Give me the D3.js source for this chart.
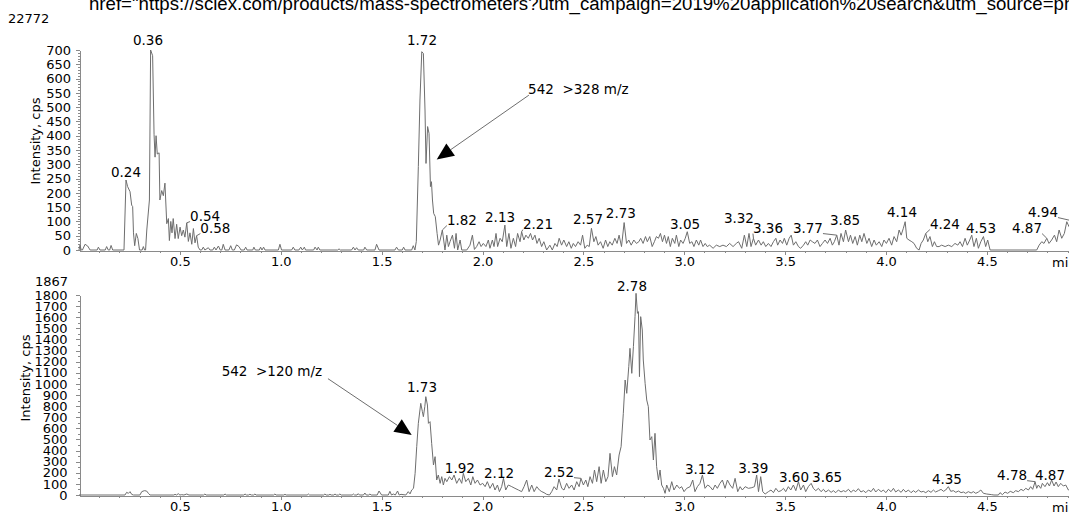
<!DOCTYPE html>
<html>
<head>
<meta charset="utf-8">
<script src="https://cdn.jsdelivr.net/npm/d3@7"></script>
<style>
body{margin:0;background:#fff;overflow:hidden;}
svg{display:block;font-family:"DejaVu Sans",Verdana,sans-serif;}
.axis path,.axis line{stroke:#8a8a8a;shape-rendering:crispEdges;}
.axis text{fill:#000;font-size:13px;font-family:"DejaVu Sans",Verdana,sans-serif;}
</style>
</head>
<body>
<div id="chart"></div>
<script>
//data: [time (min), intensity (cps)]
var topTrace = [
[0,0],[0.005,17],[0.011,0],[0.017,0],[0.03,20],[0.043,14],[0.055,0],[0.09,0],[0.096,10],[0.104,0],[0.13,0],[0.137,12],[0.145,0],[0.152,0],[0.159,16],[0.167,0],
[0.223,0],[0.233,245],[0.241,222],[0.253,204],[0.261,157],[0.266,152],[0.27,60],[0.276,15],[0.284,58],[0.292,40],[0.3,0],[0.313,0],[0.319,12],[0.325,0],[0.33,0],
[0.336,70],[0.349,175],[0.355,700],[0.365,680],[0.372,405],[0.377,325],[0.382,400],[0.388,336],[0.397,340],[0.401,175],[0.41,208],[0.418,190],[0.426,234],[0.435,92],
[0.443,110],[0.448,33],[0.455,100],[0.461,60],[0.467,110],[0.476,40],[0.484,90],[0.492,40],[0.501,80],[0.509,50],[0.517,70],[0.525,45],[0.534,95],[0.542,30],[0.55,60],
[0.559,20],[0.567,75],[0.575,25],[0.583,50],[0.591,10],[0.6,0],[0.608,0],[0.616,10],[0.624,0],[0.641,8],[0.649,0],[0.663,0],[0.671,10],[0.679,0],[0.691,14],[0.7,0],
[0.708,0],[0.715,20],[0.724,0],[0.743,0],[0.752,15],[0.76,0],[0.77,0],[0.781,18],[0.793,12],[0.803,0],[0.819,0],[0.826,10],[0.833,0],[0.861,0],[0.867,10],[0.874,0],
[0.894,0],[0.9,10],[0.907,0],[0.915,10],[0.922,0],[0.988,0],[0.996,20],[1.004,0],[1.054,0],[1.062,10],[1.07,0],[1.09,0],[1.099,10],[1.107,0],[1.117,10],[1.123,0],
[1.163,0],[1.17,10],[1.18,0],[1.186,10],[1.194,0],[1.282,0],[1.289,4],[1.295,0],[1.351,0],[1.36,10],[1.368,0],[1.376,8],[1.384,0],[1.411,0],[1.417,10],[1.426,0],
[1.467,0],[1.475,20],[1.487,0],[1.566,0],[1.574,10],[1.583,0],[1.602,0],[1.609,10],[1.616,0],[1.649,0],[1.657,15],[1.665,0],[1.672,30],[1.682,292],[1.69,525],
[1.699,694],[1.707,688],[1.715,490],[1.72,303],[1.728,432],[1.735,408],[1.742,222],[1.747,239],[1.752,175],[1.758,128],[1.766,117],[1.775,58],[1.782,17],[1.79,35],
[1.801,70],[1.814,0],[1.823,52],[1.831,12],[1.839,29],[1.851,52],[1.861,6],[1.869,58],[1.877,0],[1.889,35],[1.897,0],[1.922,0],[1.938,17],[1.95,52],[1.96,2],
[1.971,12],[1.983,29],[1.993,12],[2.004,23],[2.017,12],[2.029,35],[2.037,6],[2.049,35],[2.057,12],[2.067,58],[2.075,12],[2.087,41],[2.098,29],[2.111,87],[2.12,12],
[2.131,58],[2.141,6],[2.153,41],[2.164,12],[2.174,58],[2.186,29],[2.194,64],[2.205,35],[2.215,52],[2.227,41],[2.238,58],[2.248,35],[2.26,52],[2.27,23],[2.281,41],
[2.293,12],[2.304,29],[2.318,0],[2.334,17],[2.346,0],[2.359,23],[2.37,12],[2.38,41],[2.392,17],[2.403,35],[2.417,12],[2.428,29],[2.44,6],[2.45,23],[2.461,12],
[2.474,29],[2.486,17],[2.496,52],[2.507,6],[2.519,17],[2.529,12],[2.54,76],[2.552,29],[2.562,47],[2.573,17],[2.585,29],[2.598,6],[2.61,35],[2.621,12],[2.631,29],
[2.643,17],[2.656,41],[2.667,23],[2.677,52],[2.689,12],[2.702,96],[2.714,23],[2.725,35],[2.737,17],[2.75,35],[2.763,23],[2.775,29],[2.784,41],[2.796,23],[2.808,47],
[2.817,29],[2.829,47],[2.841,12],[2.852,29],[2.862,47],[2.872,41],[2.882,58],[2.892,29],[2.902,52],[2.912,23],[2.921,47],[2.931,12],[2.941,41],[2.953,23],[2.961,52],
[2.973,12],[2.982,35],[2.994,23],[3.005,41],[3.015,64],[3.027,23],[3.038,29],[3.048,12],[3.06,35],[3.072,17],[3.081,35],[3.093,12],[3.104,23],[3.114,12],[3.126,17],
[3.143,6],[3.159,17],[3.176,12],[3.192,17],[3.209,12],[3.225,23],[3.242,12],[3.258,23],[3.269,29],[3.285,6],[3.298,52],[3.31,12],[3.321,58],[3.331,12],[3.343,41],
[3.354,17],[3.368,35],[3.381,17],[3.392,29],[3.404,12],[3.417,23],[3.43,12],[3.442,29],[3.454,41],[3.463,17],[3.475,35],[3.487,23],[3.496,41],[3.508,17],[3.52,41],
[3.53,52],[3.541,17],[3.553,29],[3.566,12],[3.577,6],[3.591,17],[3.602,29],[3.612,17],[3.624,35],[3.635,29],[3.648,23],[3.66,35],[3.673,12],[3.685,23],[3.698,35],
[3.71,23],[3.723,41],[3.734,17],[3.744,29],[3.756,52],[3.767,17],[3.777,58],[3.789,29],[3.8,70],[3.814,29],[3.824,52],[3.835,23],[3.847,47],[3.858,17],[3.87,52],
[3.88,29],[3.891,58],[3.905,23],[3.916,41],[3.929,12],[3.941,35],[3.952,17],[3.966,29],[3.979,12],[3.99,35],[4.002,23],[4.015,41],[4.028,17],[4.04,47],[4.053,29],
[4.065,70],[4.075,52],[4.086,76],[4.095,99],[4.103,41],[4.114,35],[4.128,29],[4.139,23],[4.152,6],[4.164,0],[4.174,23],[4.185,35],[4.197,58],[4.207,29],[4.218,47],
[4.23,12],[4.24,29],[4.251,12],[4.263,12],[4.276,17],[4.293,12],[4.309,17],[4.326,12],[4.342,23],[4.356,17],[4.367,29],[4.379,12],[4.392,41],[4.403,17],[4.415,35],
[4.425,52],[4.436,12],[4.448,41],[4.458,6],[4.47,29],[4.483,47],[4.494,12],[4.504,35],[4.516,0],[4.747,0],[4.759,17],[4.772,29],[4.783,23],[4.797,41],[4.808,23],
[4.821,35],[4.835,52],[4.846,29],[4.858,70],[4.871,41],[4.884,58],[4.896,99],[4.907,82],[4.92,70],[4.935,100],[4.95,60]
];

var bottomTrace = [
[0,0],[0.228,0],[0.236,24],[0.245,15],[0.253,30],[0.261,6],[0.27,0],[0.302,0],[0.311,30],[0.324,39],[0.335,36],[0.344,15],[0.352,0],[0.47,0],[0.476,6],[0.484,0],
[0.492,12],[0.5,0],[0.509,3],[0.52,0],[0.534,9],[0.545,0],[0.618,0],[0.624,9],[0.63,0],[0.718,0],[0.724,9],[0.73,0],[0.817,0],[0.823,9],[0.83,0],[0.84,0],[0.847,6],
[0.855,0],[0.866,0],[0.872,9],[0.878,0],[0.965,0],[0.971,9],[0.977,0],[1.015,0],[1.021,6],[1.027,0],[1.131,0],[1.137,9],[1.143,0],[1.213,0],[1.219,9],[1.225,0],
[1.238,0],[1.244,6],[1.25,0],[1.263,0],[1.269,9],[1.275,0],[1.287,0],[1.293,9],[1.3,0],[1.354,0],[1.36,9],[1.366,0],[1.378,0],[1.384,12],[1.39,0],[1.41,0],[1.417,18],
[1.424,0],[1.436,0],[1.442,9],[1.448,0],[1.478,0],[1.487,36],[1.5,0],[1.533,0],[1.541,33],[1.549,0],[1.558,9],[1.568,0],[1.579,36],[1.587,0],[1.596,6],[1.62,0],
[1.632,30],[1.641,10],[1.649,45],[1.658,60],[1.666,195],[1.674,435],[1.682,645],[1.694,825],[1.702,750],[1.707,705],[1.714,795],[1.719,885],[1.727,810],[1.732,645],
[1.74,660],[1.748,465],[1.757,270],[1.765,345],[1.773,135],[1.781,180],[1.79,105],[1.798,165],[1.806,90],[1.814,150],[1.823,120],[1.836,165],[1.848,135],[1.859,180],
[1.872,105],[1.885,150],[1.897,105],[1.905,195],[1.917,120],[1.93,150],[1.942,90],[1.952,165],[1.963,105],[1.975,135],[1.988,90],[2.001,105],[2.013,75],[2.024,120],
[2.037,60],[2.051,105],[2.062,45],[2.074,90],[2.084,30],[2.095,75],[2.104,150],[2.115,45],[2.128,90],[2.145,75],[2.161,60],[2.178,45],[2.194,30],[2.206,75],[2.219,135],
[2.231,30],[2.244,90],[2.256,30],[2.269,75],[2.282,45],[2.294,30],[2.305,21],[2.318,6],[2.332,0],[2.343,30],[2.355,75],[2.368,45],[2.379,144],[2.393,60],[2.404,45],
[2.417,105],[2.429,60],[2.442,90],[2.454,45],[2.467,120],[2.479,75],[2.488,150],[2.5,90],[2.512,135],[2.522,75],[2.533,165],[2.545,105],[2.555,225],[2.566,120],
[2.578,255],[2.588,105],[2.599,225],[2.611,120],[2.622,165],[2.632,375],[2.644,165],[2.654,255],[2.665,180],[2.677,360],[2.687,435],[2.698,735],[2.707,1035],[2.715,915],
[2.72,1035],[2.725,1155],[2.731,1320],[2.74,1095],[2.748,1335],[2.756,1605],[2.761,1815],[2.768,1635],[2.773,1650],[2.778,1065],[2.784,1605],[2.792,1485],[2.797,1215],
[2.806,1005],[2.814,855],[2.822,795],[2.83,495],[2.839,525],[2.847,315],[2.855,555],[2.863,255],[2.872,135],[2.88,225],[2.888,90],[2.897,60],[2.905,15],[2.913,90],
[2.926,30],[2.938,120],[2.949,45],[2.963,90],[2.976,60],[2.987,75],[2.999,30],[3.012,60],[3.029,75],[3.042,135],[3.053,30],[3.065,75],[3.078,105],[3.09,180],[3.103,60],
[3.116,90],[3.128,75],[3.141,45],[3.153,90],[3.164,60],[3.177,105],[3.189,135],[3.202,60],[3.214,135],[3.227,90],[3.24,60],[3.252,150],[3.265,30],[3.277,75],[3.288,45],
[3.302,75],[3.318,60],[3.335,66],[3.348,75],[3.359,180],[3.368,30],[3.379,165],[3.389,30],[3.401,9],[3.417,30],[3.43,45],[3.442,21],[3.454,60],[3.467,30],[3.48,39],
[3.492,60],[3.503,30],[3.516,75],[3.528,45],[3.541,90],[3.553,39],[3.566,120],[3.577,45],[3.591,90],[3.602,30],[3.615,75],[3.629,105],[3.64,60],[3.652,39],[3.665,60],
[3.678,30],[3.69,51],[3.701,27],[3.715,45],[3.728,24],[3.739,39],[3.751,21],[3.764,45],[3.777,27],[3.789,39],[3.8,30],[3.814,51],[3.827,24],[3.838,45],[3.85,30],
[3.863,57],[3.876,27],[3.888,39],[3.9,21],[3.913,45],[3.926,30],[3.938,60],[3.949,27],[3.962,51],[3.976,30],[3.987,45],[3.999,21],[4.012,51],[4.025,30],[4.037,60],
[4.048,27],[4.061,45],[4.075,24],[4.086,51],[4.098,27],[4.111,45],[4.124,21],[4.136,39],[4.147,24],[4.161,45],[4.174,27],[4.185,33],[4.197,21],[4.21,39],[4.223,24],
[4.235,45],[4.246,27],[4.26,39],[4.273,51],[4.285,33],[4.296,45],[4.309,75],[4.321,33],[4.334,39],[4.346,24],[4.359,36],[4.372,21],[4.384,27],[4.395,15],[4.408,30],
[4.422,18],[4.433,30],[4.445,15],[4.458,27],[4.47,45],[4.483,15],[4.499,9],[4.524,3],[4.535,0],[4.557,0],[4.565,21],[4.577,3],[4.59,27],[4.603,15],[4.616,33],
[4.631,21],[4.643,39],[4.656,30],[4.669,51],[4.681,39],[4.693,60],[4.706,45],[4.717,75],[4.727,51],[4.739,120],[4.747,60],[4.755,90],[4.767,60],[4.775,105],[4.788,75],
[4.8,111],[4.81,81],[4.821,135],[4.833,81],[4.843,117],[4.854,75],[4.866,105],[4.879,81],[4.891,90],[4.904,45],[4.92,60]
];

// tick labels
var xTickLabels = [0.5, 1.0, 1.5, 2.0, 2.5, 3.0, 3.5, 4.0, 4.5];
var topYTicks = [0, 50, 100, 150, 200, 250, 300, 350, 400, 450, 500, 550, 600, 650, 700];
var bottomYTicks = [0, 100, 200, 300, 400, 500, 600, 700, 800, 900, 1000, 1100, 1200, 1300, 1400, 1500, 1600, 1700, 1800];

// peak labels: [text, label time, label intensity, leader peak time, leader peak intensity]
var topPeaks = [
    ['0.24', 0.233, 257], ['0.36', 0.342, 719], ['0.54', 0.625, 103, 0.534, 95], ['0.58', 0.676, 61, 0.583, 50],
    ['1.72', 1.700, 719], ['1.82', 1.898, 89, 1.801, 70], ['2.13', 2.087, 99], ['2.21', 2.275, 75, 2.194, 64],
    ['2.57', 2.523, 92], ['2.73', 2.686, 113], ['3.05', 3.004, 75], ['3.32', 3.271, 96], ['3.36', 3.415, 61, 3.343, 41],
    ['3.77', 3.613, 61, 3.756, 52], ['3.85', 3.797, 89], ['4.14', 4.079, 117], ['4.24', 4.292, 75, 4.197, 58],
    ['4.53', 4.471, 61], ['4.87', 4.699, 61, 4.797, 41], ['4.94', 4.778, 117, 4.935, 100]
];
var bottomPeaks = [
    ['1.73', 1.700, 930], ['2.78', 2.741, 1839], ['1.92', 1.888, 201], ['2.12', 2.082, 156], ['2.52', 2.379, 165, 2.488, 150],
    ['3.12', 3.078, 192], ['3.39', 3.342, 198], ['3.60', 3.544, 120], ['3.65', 3.708, 120], ['4.35', 4.302, 102],
    ['4.78', 4.625, 138, 4.739, 120], ['4.87', 4.813, 138]
];

// transitions: [text, text time, text intensity, line start time, start intensity, arrow tip time, tip intensity]
var topTransition = ['542  >328 m/z', 2.226, 547, 2.230, 542, 1.773, 317];
var bottomTransition = ['542  >120 m/z', 0.707, 1067, 1.234, 1047, 1.649, 540];

var headerNumber = '22772';
var headerLink = 'href="https://sciex.com/products/mass-spectrometers?utm_campaign=2019%20application%20search&utm_source=ph';
var bottomMax = '1867';
//end data


var width = 1069, height = 515;
var svg = d3.select('#chart').append('svg')
    .attr('width', width)
    .attr('height', height);

var x = d3.scaleLinear().domain([0, 5]).range([79, 1087.75]);
var xMinor = d3.range(0.1, 5.0, 0.1);

var panels = [
    {
        trace: topTrace, peaks: topPeaks, transition: topTransition, ticks: topYTicks,
        y: d3.scaleLinear().domain([0, 700]).range([250, 50]),
        minor: d3.range(0, 701, 10), yPad: 4.5, titleX: 39.5, titleY: 141
    },
    {
        trace: bottomTrace, peaks: bottomPeaks, transition: bottomTransition, ticks: bottomYTicks,
        y: d3.scaleLinear().domain([0, 1800]).range([495, 295]),
        minor: d3.range(0, 1801, 50), yPad: 8, titleX: 30, titleY: 378
    }
];

var line = function(y){
    return d3.line()
        .x(function(d){ return x(d[0]); })
        .y(function(d){ return y(d[1]); });
};

panels.forEach(function(p){
    var g = svg.append('g');
    var y0 = p.y(0) + 0.5;

    //y axis, minor then labelled ticks
    g.append('g').attr('class', 'axis').attr('transform', 'translate(79.5,0)')
        .call(d3.axisLeft(p.y).tickValues(p.minor).tickSize(2).tickSizeOuter(0).tickFormat(''));
    g.append('g').attr('class', 'axis').attr('transform', 'translate(79.5,0)')
        .call(d3.axisLeft(p.y).tickValues(p.ticks).tickSize(4).tickSizeOuter(0).tickPadding(p.yPad).tickFormat(d3.format('d')))
        .select('.domain').remove();

    //x axis
    g.append('g').attr('class', 'axis').attr('transform', 'translate(0,' + y0 + ')')
        .call(d3.axisBottom(x).tickValues(xMinor).tickSize(2).tickSizeOuter(0).tickFormat(''));
    g.append('g').attr('class', 'axis').attr('transform', 'translate(0,' + y0 + ')')
        .call(d3.axisBottom(x).tickValues(xTickLabels).tickSize(4).tickSizeOuter(0).tickPadding(2.5).tickFormat(d3.format('.1f')))
        .select('.domain').remove();

    g.append('text')
        .attr('x', 1052).attr('y', y0 + 16)
        .style('font-size', '13px').attr('fill', '#000')
        .text('min');

    g.append('text')
        .attr('transform', 'translate(' + p.titleX + ',' + p.titleY + ') rotate(-90)')
        .attr('text-anchor', 'middle')
        .style('font-size', '13px').attr('fill', '#000')
        .text('Intensity, cps');

    //trace
    g.append('path')
        .datum(p.trace)
        .attr('fill', 'none')
        .attr('stroke', '#6e6e6e')
        .attr('stroke-width', 1)
        .attr('stroke-linejoin', 'round')
        .attr('d', line(p.y));

    //peak labels
    p.peaks.forEach(function(d){
        var tx = x(d[1]), ty = p.y(d[2]);
        var t = g.append('text')
            .attr('x', tx).attr('y', ty)
            .attr('text-anchor', 'middle')
            .style('font-size', '13.5px').attr('fill', '#000')
            .text(d[0]);
        if(d.length > 3){
            var w = t.node().getComputedTextLength();
            var px = x(d[3]), py = p.y(d[4]);
            var ex = px < tx ? tx - w / 2 : tx + w / 2;
            g.append('polyline')
                .attr('points', [[px, py], [ex, ty + 1]].join(' '))
                .attr('fill', 'none').attr('stroke', '#6e6e6e').attr('stroke-width', 1);
        }
    });

    //transition annotation with arrow
    var a = p.transition;
    g.append('text')
        .attr('x', x(a[1])).attr('y', p.y(a[2]))
        .style('font-size', '13.5px').style('white-space', 'pre').attr('fill', '#000')
        .text(a[0]);
    var sx = x(a[3]), sy = p.y(a[4]), ax = x(a[5]), ay = p.y(a[6]);
    var dx = ax - sx, dy = ay - sy, len = Math.sqrt(dx * dx + dy * dy);
    var ux = dx / len, uy = dy / len;
    var headLen = 17, headHalf = 7.5;
    var bx = ax - ux * headLen, by = ay - uy * headLen;
    g.append('line')
        .attr('x1', sx).attr('y1', sy).attr('x2', bx).attr('y2', by)
        .attr('stroke', '#6e6e6e').attr('stroke-width', 1);
    g.append('polygon')
        .attr('points', [[ax, ay], [bx - uy * headHalf, by + ux * headHalf], [bx + uy * headHalf, by - ux * headHalf]].join(' '))
        .attr('fill', '#000');
});

svg.append('text')
    .attr('x', 68).attr('y', 286)
    .attr('text-anchor', 'end')
    .style('font-size', '13px').attr('fill', '#000')
    .text(bottomMax);

svg.append('text')
    .attr('x', 8).attr('y', 23)
    .style('font-size', '13px').attr('fill', '#000')
    .text(headerNumber);

var link = svg.append('text')
    .attr('x', 89).attr('y', 9.5)
    .style('font-family', '"Liberation Sans", Arial, sans-serif')
    .style('font-size', '18px').attr('fill', '#000')
    .text(headerLink);
var linkLen = link.node().getComputedTextLength();
link.style('font-size', (18 * 986 / linkLen) + 'px');
</script>
</body>
</html>
